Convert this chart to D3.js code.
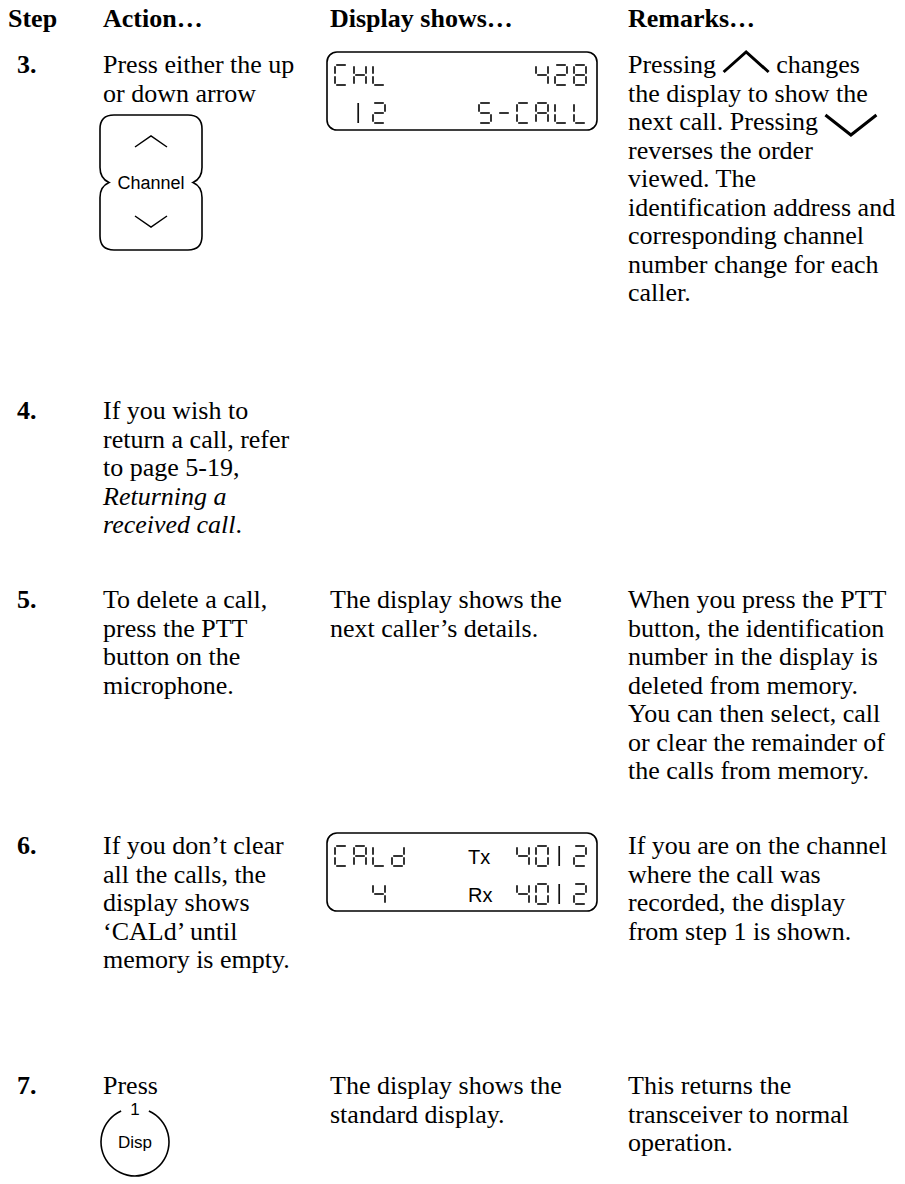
<!DOCTYPE html>
<html><head><meta charset="utf-8">
<script src="https://cdn.jsdelivr.net/npm/d3@7"></script>
<style>
html,body{margin:0;padding:0;background:#fff;}
svg{display:block;}
text{white-space:pre;}
</style></head><body>
<svg id="page" width="905" height="1184"></svg>
<script>
// ---------- data ----------
const headers = ["Step", "Action…", "Display shows…", "Remarks…"];
const stepNumbers = ["3.", "4.", "5.", "6.", "7."];
const actionText = [
  [["Press either the up"], ["or down arrow"]],
  [["If you wish to"], ["return a call, refer"], ["to page 5-19,"], [{t: "Returning a", i: 1}], [{t: "received call", i: 1}, "."]],
  [["To delete a call,"], ["press the PTT"], ["button on the"], ["microphone."]],
  [["If you don’t clear"], ["all the calls, the"], ["display shows"], ["‘CALd’ until"], ["memory is empty."]],
  [["Press"]]
];
const displayText = [
  [], [],
  [["The display shows the"], ["next caller’s details."]],
  [],
  [["The display shows the"], ["standard display."]]
];
const remarkText = [
  [["Pressing ", {icon: "up"}, " changes"], ["the display to show the"], ["next call. Pressing ", {icon: "down"}],
   ["reverses the order"], ["viewed. The"], ["identification address and"], ["corresponding channel"],
   ["number change for each"], ["caller."]],
  [],
  [["When you press the PTT"], ["button, the identification"], ["number in the display is"], ["deleted from memory."],
   ["You can then select, call"], ["or clear the remainder of"], ["the calls from memory."]],
  [["If you are on the channel"], ["where the call was"], ["recorded, the display"], ["from step 1 is shown."]],
  [["This returns the"], ["transceiver to normal"], ["operation."]]
];
const lcdSteps = ["3.", "6."];
const lcdLeft = [["CHL", " 12"], ["CALd", "  4"]];
const lcdTag = [["", ""], ["Tx", "Rx"]];
const lcdRight = [["428", "5-CALL"], ["4012", "4012"]];
const channelKeyLabel = "Channel";
const dispKeyLabels = ["1", "Disp"];

// ---------- layout ----------
const W = 905, H = 1184;
const serif = "'Liberation Serif','Times New Roman',Times,serif";
const sans = "'Liberation Sans',Arial,Helvetica,sans-serif";
const FS = 26, LH = 28.5;
const colX = d3.scaleOrdinal().domain(headers).range([8, 103, 330, 628]);
const stepY = d3.scaleOrdinal().domain(stepNumbers).range([73, 419, 608, 854, 1094]);
const lineY = d3.scaleLinear().domain([0, 1]).range([0, LH]);
const headerY = 27, stepNumX = 17;

const svg = d3.select("#page");
svg.append("rect").attr("width", W).attr("height", H).attr("fill", "#fff");
const root = svg.append("g").attr("font-family", serif).attr("font-size", FS).attr("fill", "#000");

// headers
root.selectAll("text.hdr").data(headers).join("text").attr("class", "hdr")
  .attr("x", d => colX(d)).attr("y", headerY).attr("font-weight", "bold").text(d => d);

// step numbers
root.selectAll("text.num").data(stepNumbers).join("text").attr("class", "num")
  .attr("x", stepNumX).attr("y", d => stepY(d)).attr("font-weight", "bold").text(d => d);

function chevron(g, x, y, w, h, dir, sw) {
  const pts = dir === "up"
    ? [[x, y + h], [x + w / 2, y], [x + w, y + h]]
    : [[x, y], [x + w / 2, y + h], [x + w, y]];
  g.append("path").attr("d", d3.line()(pts)).attr("fill", "none")
    .attr("stroke", "#000").attr("stroke-width", sw).attr("stroke-linejoin", "miter");
}

function drawLine(g, x, y, segs) {
  let cx = x;
  segs.forEach(s => {
    if (typeof s === "string") s = {t: s};
    if (s.icon) {
      const iw = 47;
      if (s.icon === "up") chevron(g, cx + 1, y - 21, iw - 2, 20, "up", 3);
      else chevron(g, cx + 1, y - 15, iw + 4, 20, "down", 3);
      cx += iw;
    } else {
      const t = g.append("text").attr("x", cx).attr("y", y)
        .attr("font-style", s.i ? "italic" : "normal").text(s.t);
      cx += t.node().getComputedTextLength();
    }
  });
}

function drawColumn(texts, col) {
  texts.forEach((lines, si) => {
    const y0 = stepY(stepNumbers[si]);
    lines.forEach((segs, li) => drawLine(root, colX(col), y0 + lineY(li), segs));
  });
}
drawColumn(actionText, headers[1]);
drawColumn(displayText, headers[2]);
drawColumn(remarkText, headers[3]);

// ---------- Channel key ----------
(function () {
  const y0 = stepY("3.") + 42, x0 = 100, x1 = 202, y1 = y0 + 135, ym = (y0 + y1) / 2, r = 14;
  const p = d3.path();
  p.moveTo(x0 + r, y0); p.lineTo(x1 - r, y0); p.quadraticCurveTo(x1, y0, x1, y0 + r);
  p.lineTo(x1, ym - 15); p.quadraticCurveTo(x1, ym - 4, x1 - 9, ym);
  p.quadraticCurveTo(x1, ym + 4, x1, ym + 15);
  p.lineTo(x1, y1 - r); p.quadraticCurveTo(x1, y1, x1 - r, y1);
  p.lineTo(x0 + r, y1); p.quadraticCurveTo(x0, y1, x0, y1 - r);
  p.lineTo(x0, ym + 15); p.quadraticCurveTo(x0, ym + 4, x0 + 9, ym);
  p.quadraticCurveTo(x0, ym - 4, x0, ym - 15);
  p.lineTo(x0, y0 + r); p.quadraticCurveTo(x0, y0, x0 + r, y0); p.closePath();
  root.append("path").attr("d", p.toString()).attr("fill", "none").attr("stroke", "#000").attr("stroke-width", 1.6);
  const cx = (x0 + x1) / 2;
  chevron(root, cx - 16, y0 + 21, 32, 11, "up", 1.5);
  chevron(root, cx - 16, y1 - 34, 32, 11, "down", 1.5);
  root.append("text").attr("x", cx).attr("y", ym + 6).attr("text-anchor", "middle")
    .attr("font-family", sans).attr("font-size", 18).text(channelKeyLabel);
})();

// ---------- Disp key ----------
(function () {
  const cx = 135, cy = stepY("7.") + 48, r = 34;
  const arc = d3.arc().innerRadius(r - 0.8).outerRadius(r + 0.8).startAngle(0.42).endAngle(2 * Math.PI - 0.42);
  root.append("path").attr("transform", `translate(${cx},${cy})`).attr("d", arc());
  root.append("text").attr("x", cx).attr("y", cy - r + 7).attr("text-anchor", "middle")
    .attr("font-family", sans).attr("font-size", 17).text(dispKeyLabels[0]);
  root.append("text").attr("x", cx).attr("y", cy + 6).attr("text-anchor", "middle")
    .attr("font-family", sans).attr("font-size", 17).text(dispKeyLabels[1]);
})();

// ---------- LCD screens ----------
const SEG = {
  "C": "adef", "H": "bcefg", "L": "def", "4": "bcfg", "2": "abged", "8": "abcdefg",
  "5": "afgcd", "S": "afgcd", "-": "g", "A": "abcefg", "d": "bcdeg", "0": "abcdef", "1": "1"
};
function glyph(g, ch, x, y, w, h) {
  const segs = SEG[ch] || "";
  const q = 1.2, m = h / 2;
  const def = {
    a: [[x + q, y], [x + w - q, y]],
    b: [[x + w, y + q], [x + w, y + m - q]],
    c: [[x + w, y + m + q], [x + w, y + h - q]],
    d: [[x + q, y + h], [x + w - q, y + h]],
    e: [[x, y + m + q], [x, y + h - q]],
    f: [[x, y + q], [x, y + m - q]],
    g: [[x + q, y + m], [x + w - q, y + m]],
    "1": [[x + w * 0.35, y], [x + w * 0.35, y + h]]
  };
  for (const s of segs) {
    g.append("path").attr("d", d3.line()(def[s])).attr("stroke", "#111")
      .attr("stroke-width", 1.7).attr("fill", "none");
  }
}
lcdSteps.forEach((st, k) => {
  const top = stepY(st) - 21, left = 327, right = 597, bot = top + 78;
  root.append("rect").attr("x", left).attr("y", top).attr("width", right - left).attr("height", bot - top)
    .attr("rx", 10).attr("fill", "none").attr("stroke", "#000").attr("stroke-width", 1.6);
  const pitch = 19, gw = 12, gh = 20, gx0 = 335, rightEnd = 586;
  [0, 1].forEach(r => {
    const gy = top + 13 + r * 38;
    const L = lcdLeft[k][r];
    [...L].forEach((ch, i) => glyph(root, ch, gx0 + i * pitch, gy, gw, gh));
    const R = lcdRight[k][r];
    [...R].forEach((ch, i) => glyph(root, ch, rightEnd - gw - (R.length - 1 - i) * pitch, gy, gw, gh));
    if (lcdTag[k][r]) {
      root.append("text").attr("x", 468).attr("y", gy + gh - 2).attr("font-family", sans)
        .attr("font-size", 20).text(lcdTag[k][r]);
    }
  });
});
</script>
</body></html>
